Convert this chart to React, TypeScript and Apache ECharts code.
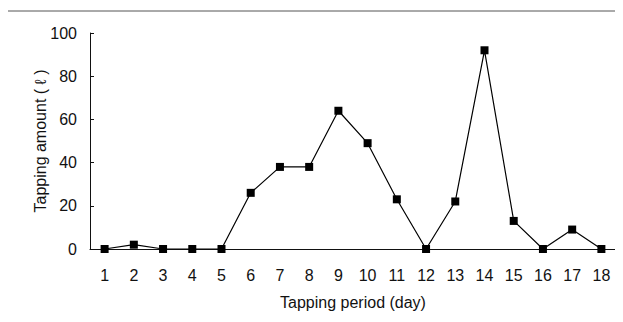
import React, { useEffect, useRef } from "react";
import * as echarts from "echarts";

const days = ["1","2","3","4","5","6","7","8","9","10","11","12","13","14","15","16","17","18"];
const amounts = [0, 2, 0, 0, 0, 26, 38, 38, 64, 49, 23, 0, 22, 92, 13, 0, 9, 0];
const yTicks = [0, 20, 40, 60, 80, 100];

const FONT = '"Liberation Sans", Arial, sans-serif';

export default function App() {
  const ref = useRef<HTMLDivElement>(null);
  useEffect(() => {
    if (!ref.current) return;
    const chart = echarts.init(ref.current, undefined, { renderer: "svg" });
    chart.setOption({
      animation: false,
      backgroundColor: "#fff",
      grid: { left: 90, right: 7, top: 33, bottom: 73, containLabel: false },
      graphic: [
        { type: "line", shape: { x1: 4, y1: 11, x2: 623, y2: 11 }, style: { stroke: "#555", lineWidth: 1 } },
        { type: "line", shape: { x1: 5.5, y1: 11, x2: 5.5, y2: 322 }, style: { stroke: "#666", lineWidth: 1 } },
      ],
      xAxis: {
        type: "category",
        data: days,
        boundaryGap: true,
        name: "Tapping period (day)",
        nameLocation: "middle",
        nameGap: 45,
        nameMoveOverlap: false,
        nameTextStyle: { fontFamily: FONT, fontSize: 16, color: "#111" },
        axisLine: { lineStyle: { color: "#111", width: 1 } },
        axisTick: { inside: true, length: 5, lineStyle: { color: "#111" } },
        axisLabel: { fontFamily: FONT, fontSize: 16, color: "#111", margin: 18 },
        splitLine: { show: false },
      },
      yAxis: {
        type: "value",
        min: 0,
        max: yTicks[yTicks.length - 1],
        interval: 20,
        name: "Tapping amount ( ℓ )",
        nameLocation: "middle",
        nameGap: 42,
        nameMoveOverlap: false,
        nameRotate: 90,
        nameTextStyle: { fontFamily: FONT, fontSize: 16, color: "#111" },
        axisLine: { show: true, lineStyle: { color: "#111", width: 1 } },
        axisTick: { show: true, inside: true, length: 4, lineStyle: { color: "#111" } },
        axisLabel: { fontFamily: FONT, fontSize: 16, color: "#111", margin: 13 },
        splitLine: { show: false },
      },
      series: [
        {
          type: "line",
          data: amounts,
          symbol: "rect",
          symbolSize: 8,
          itemStyle: { color: "#000" },
          lineStyle: { color: "#000", width: 1.2 },
        },
      ],
    });
    return () => chart.dispose();
  }, []);
  return <div ref={ref} style={{ width: 623, height: 322, margin: -8 }} />;
}
